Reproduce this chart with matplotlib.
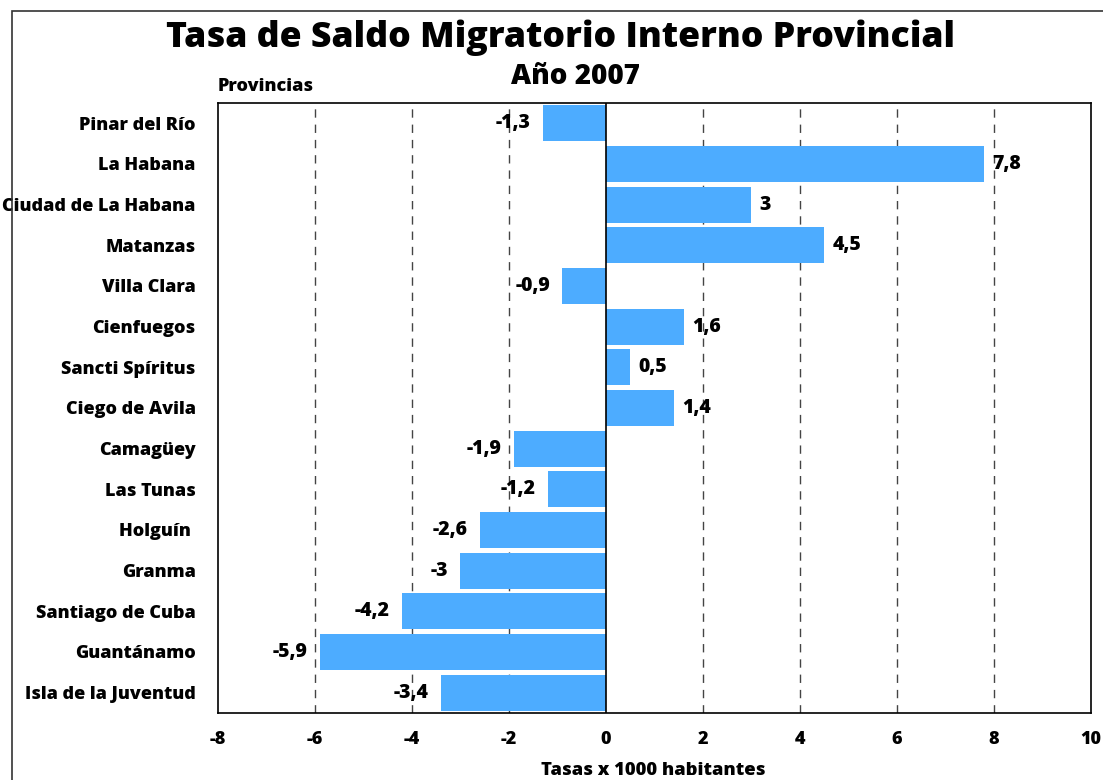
import matplotlib.pyplot as plt
from matplotlib.patches import Rectangle

provincias = [
    "Pinar del Río", "La Habana", "Ciudad de La Habana", "Matanzas",
    "Villa Clara", "Cienfuegos", "Sancti Spíritus", "Ciego de Avila",
    "Camagüey", "Las Tunas", "Holguín ", "Granma", "Santiago de Cuba",
    "Guantánamo", "Isla de la Juventud",
]
tasas = [-1.3, 7.8, 3, 4.5, -0.9, 1.6, 0.5, 1.4, -1.9, -1.2, -2.6, -3, -4.2, -5.9, -3.4]
xticks = [-8, -6, -4, -2, 0, 2, 4, 6, 8, 10]

plt.rcParams['font.family'] = ['Open Sans', 'DejaVu Sans']
plt.rcParams['font.weight'] = 'heavy'
W = 'heavy'

fig = plt.figure(figsize=(11.03, 7.80), dpi=100)
ax = fig.add_axes([0.1976, 0.0859, 0.7914, 0.7821])

y = list(range(len(provincias)))
ax.barh(y, tasas, height=0.88, color='#4DACFF', zorder=2)
ax.axvline(0, color='black', lw=1.2, zorder=3)

for v in xticks[1:-1]:
    if v != 0:
        ax.axvline(v, color='#444444', lw=1.0, ls=(0, (6, 5)), zorder=1)

for yi, v in zip(y, tasas):
    txt = ('%g' % v).replace('.', ',')
    if v >= 0:
        ax.text(v + 0.17, yi, txt, va='center', ha='left', fontsize=14, fontweight=W, zorder=4)
    else:
        ax.text(v - 0.25, yi, txt, va='center', ha='right', fontsize=14, fontweight=W, zorder=4)

ax.set_xlim(-8, 10)
ax.set_ylim(len(provincias) - 0.5, -0.5)
ax.set_xticks(xticks)
ax.set_xticklabels([str(t) for t in xticks], fontsize=13, fontweight=W)
ax.set_yticks(y)
ax.set_yticklabels(provincias, fontsize=13, fontweight=W)
ax.tick_params(length=0, pad=13)
ax.tick_params(axis='y', pad=16)
for s in ax.spines.values():
    s.set_linewidth(1.2)

fig.text(0.508, 0.952, "Tasa de Saldo Migratorio Interno Provincial", ha='center', va='center',
         fontsize=25.7, fontweight=W)
fig.text(0.522, 0.902, "Año 2007", ha='center', va='center', fontsize=20, fontweight=W)
fig.text(0.1976, 0.889, "Provincias", ha='left', va='center', fontsize=13, fontweight=W)
fig.text(0.592, 0.0125, "Tasas x 1000 habitantes", ha='center', va='center', fontsize=13.2, fontweight=W)

fig.patches.append(Rectangle((0.011, -0.1), 1.2, 0.1 + 0.986, transform=fig.transFigure,
                             fill=False, edgecolor='#333333', lw=1.2))

fig.savefig('out.png', dpi=100)
